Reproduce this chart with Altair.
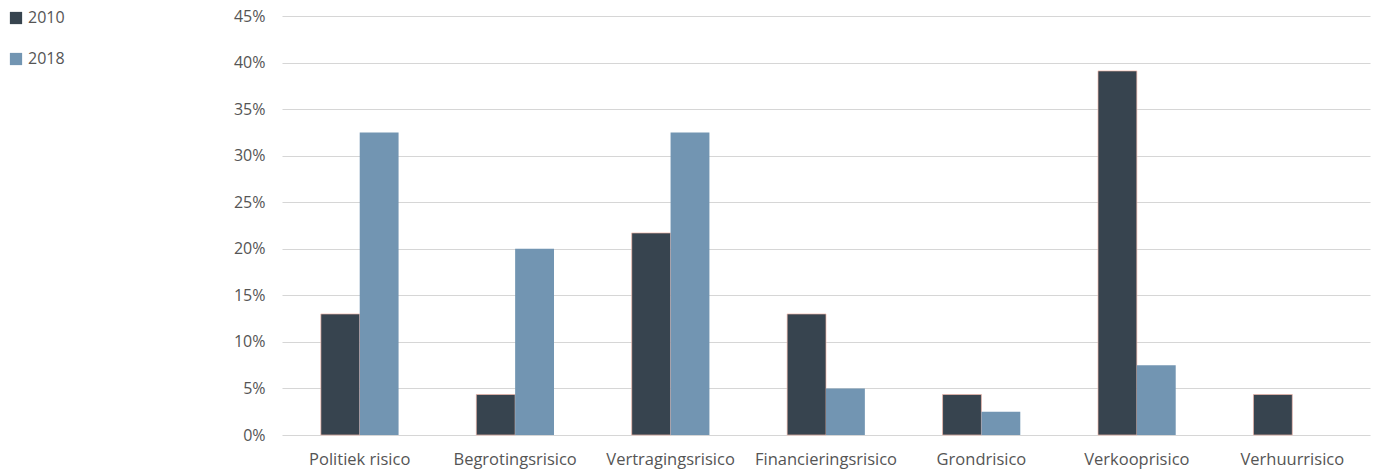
import altair as alt
import pandas as pd

categories = ["Politiek risico", "Begrotingsrisico", "Vertragingsrisico",
              "Financieringsrisico", "Grondrisico", "Verkooprisico", "Verhuurrisico"]
years = ["2010", "2018"]
values_2010 = [13.0, 4.35, 21.7, 13.0, 4.35, 39.1, 4.35]
values_2018 = [32.5, 20.0, 32.5, 5.0, 2.5, 7.5, 0.0]

rows = []
for c, a, b in zip(categories, values_2010, values_2018):
    rows.append({"cat": c, "year": "2010", "value": a / 100})
    rows.append({"cat": c, "year": "2018", "value": b / 100})
df = pd.DataFrame(rows)

font = "Open Sans"
chart = alt.Chart(df).mark_bar(strokeWidth=0.7).encode(
    x=alt.X("cat:N", sort=categories, title=None,
            scale=alt.Scale(paddingInner=0.5, paddingOuter=0.25),
            axis=alt.Axis(labelAngle=0, labelFontSize=16.5, labelColor="#555555",
                          labelFont=font, ticks=False, domain=False, labelPadding=16,
                          grid=False)),
    xOffset=alt.XOffset("year:N", sort=years),
    y=alt.Y("value:Q", title=None,
            scale=alt.Scale(domain=[0, 0.45]),
            axis=alt.Axis(format=".0%", values=[i * 0.05 for i in range(10)],
                          labelFontSize=16, labelColor="#555555", labelFont=font,
                          ticks=False, domain=False, labelPadding=17,
                          grid=True, gridColor="#d6d6d6", gridWidth=1.2)),
    color=alt.Color("year:N", sort=years, title=None,
                    scale=alt.Scale(domain=years, range=["#37444f", "#7295b2"]),
                    legend=alt.Legend(orient="none", legendX=-274, legendY=-6,
                                      symbolType="square", symbolSize=150,
                                      symbolStrokeWidth=0, labelFontSize=16,
                                      labelColor="#555555", labelFont=font,
                                      rowPadding=25, labelOffset=4)),
    stroke=alt.condition(alt.datum.year == "2010", alt.value("#f2b8aa"), alt.value(None)),
).properties(
    width=1088, height=419,
    background="white",
    autosize=alt.AutoSizeParams(type="none"),
    padding={"left": 282, "top": 16, "right": 5, "bottom": 37},
).configure_view(stroke="transparent", strokeWidth=0)

chart.save("out.html", embed_options={"renderer": "svg", "actions": False})
